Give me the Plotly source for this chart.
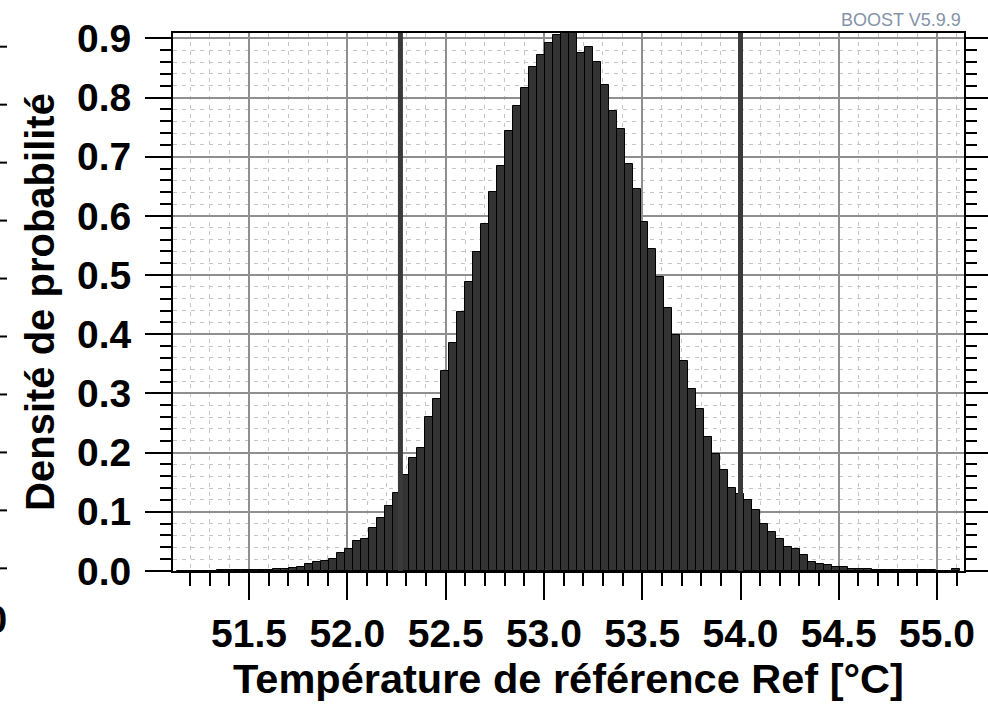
import numpy as np
import plotly.graph_objects as go

# ---------------- data ----------------
bin_start = 51.133
bin_width = 0.04066
density = [
    0.0005, 0.0005, 0.0005, 0.0008, 0.0008, 0.001, 0.001, 0.0012, 0.0015, 0.0015,
    0.002, 0.002, 0.003, 0.003, 0.005, 0.006, 0.011, 0.016, 0.017, 0.020,
    0.030, 0.038, 0.050, 0.054, 0.072, 0.089, 0.110, 0.131, 0.162, 0.191,
    0.208, 0.261, 0.291, 0.338, 0.386, 0.437, 0.488, 0.539, 0.586, 0.641,
    0.684, 0.744, 0.786, 0.816, 0.851, 0.871, 0.892, 0.906, 0.925, 0.918,
    0.875, 0.885, 0.860, 0.821, 0.778, 0.747, 0.688, 0.645, 0.589, 0.544,
    0.496, 0.445, 0.398, 0.355, 0.307, 0.273, 0.226, 0.197, 0.171, 0.141,
    0.130, 0.120, 0.103, 0.079, 0.066, 0.054, 0.041, 0.037, 0.027, 0.016,
    0.012, 0.010, 0.007, 0.006, 0.004, 0.003, 0.003, 0.002, 0.002, 0.002,
    0.0015, 0.0015, 0.001, 0.001, 0.001, 0.0008, 0.0, 0.003,
]
limits = [52.27, 54.0]
x_ticks = [51.5, 52.0, 52.5, 53.0, 53.5, 54.0, 54.5, 55.0]
y_ticks = [0.0, 0.1, 0.2, 0.3, 0.4, 0.5, 0.6, 0.7, 0.8, 0.9]
x_range = [51.113, 55.137]
y_range = [0.0, 0.909]

x_title = "Température de référence Ref [°C]"
y_title = "Densité de probabilité"
version_text = "BOOST V5.9.9"

centers = bin_start + (np.arange(len(density)) + 0.5) * bin_width

FONT = "Liberation Sans, Arial, sans-serif"

fig = go.Figure()
fig.add_trace(go.Bar(
    x=centers, y=density, width=bin_width,
    marker=dict(color="#333333", line=dict(color="#000000", width=1)),
    showlegend=False, hoverinfo="skip",
))
for lx in limits:
    fig.add_trace(go.Scatter(
        x=[lx, lx], y=[0, y_range[1]], mode="lines",
        line=dict(color="#3a3a3a", width=5), showlegend=False, hoverinfo="skip",
    ))

# plot area geometry in pixels
L, R, T, B = 173, 964, 33, 571
W, H = 988, 710

fig.update_layout(
    width=W, height=H,
    margin=dict(l=L, r=W - R, t=T, b=H - B, autoexpand=False),
    paper_bgcolor="white", plot_bgcolor="white",
    font=dict(family=FONT, color="black"),
    bargap=0,
)

fig.update_xaxes(
    range=x_range, tickvals=x_ticks, ticktext=[f"{v:.1f}" for v in x_ticks],
    ticks="outside", ticklen=27, tickwidth=2, tickcolor="black",
    tickfont=dict(family=FONT, size=39, weight="bold", color="black"),
    showline=True, linecolor="black", linewidth=2, mirror=True,
    showgrid=True, gridcolor="#8f8f8f", gridwidth=2, zeroline=False,
    automargin=False,
    minor=dict(dtick=0.1, tick0=51.5, ticks="outside", ticklen=13, tickwidth=1.5,
               tickcolor="black", showgrid=True, gridcolor="#c4c4c4", gridwidth=1,
               griddash="4px,5px"),
    title=dict(text=x_title, font=dict(family=FONT, size=41.5, weight="bold", color="black"),
               standoff=8),
)
fig.update_yaxes(
    range=y_range, tickvals=y_ticks, ticktext=[f"{v:.1f}" for v in y_ticks],
    ticks="outside", ticklen=26, tickwidth=2, tickcolor="black", ticklabelstandoff=6,
    tickfont=dict(family=FONT, size=39, weight="bold", color="black"),
    showline=True, linecolor="black", linewidth=2, mirror="ticks",
    showgrid=True, gridcolor="#8f8f8f", gridwidth=2, zeroline=False,
    automargin=False,
    minor=dict(dtick=0.02, tick0=0, ticks="outside", ticklen=11, tickwidth=1.5,
               tickcolor="black", showgrid=True, gridcolor="#c4c4c4", gridwidth=1,
               griddash="4px,5px"),
    title=dict(text=y_title, font=dict(family=FONT, size=40, weight="bold", color="black"),
               standoff=10),
)

def px_to_paper_x(px):
    return (px - L) / (R - L)

def px_to_paper_y(py):
    return (B - py) / (B - T)

# version label
fig.add_annotation(
    text=version_text, xref="paper", yref="paper",
    x=px_to_paper_x(963), y=px_to_paper_y(20), xanchor="right", yanchor="middle",
    showarrow=False, font=dict(family=FONT, size=18, color="#8493a8"),
)

# fragment of a neighbouring axis at the left edge
frag_top, frag_step = 46.7, 57.96
for i in range(10):
    py = frag_top + i * frag_step
    fig.add_shape(type="line", xref="paper", yref="paper",
                  x0=px_to_paper_x(0), x1=px_to_paper_x(7),
                  y0=px_to_paper_y(py), y1=px_to_paper_y(py),
                  line=dict(color="black", width=2))
fig.add_annotation(
    text="0", xref="paper", yref="paper",
    x=px_to_paper_x(9), y=px_to_paper_y(620), xanchor="right", yanchor="middle",
    showarrow=False, font=dict(family=FONT, size=38, weight="bold", color="black"),
)

fig.write_html("out.html", config={"displayModeBar": False},
               post_script="document.body.style.margin='0';")
